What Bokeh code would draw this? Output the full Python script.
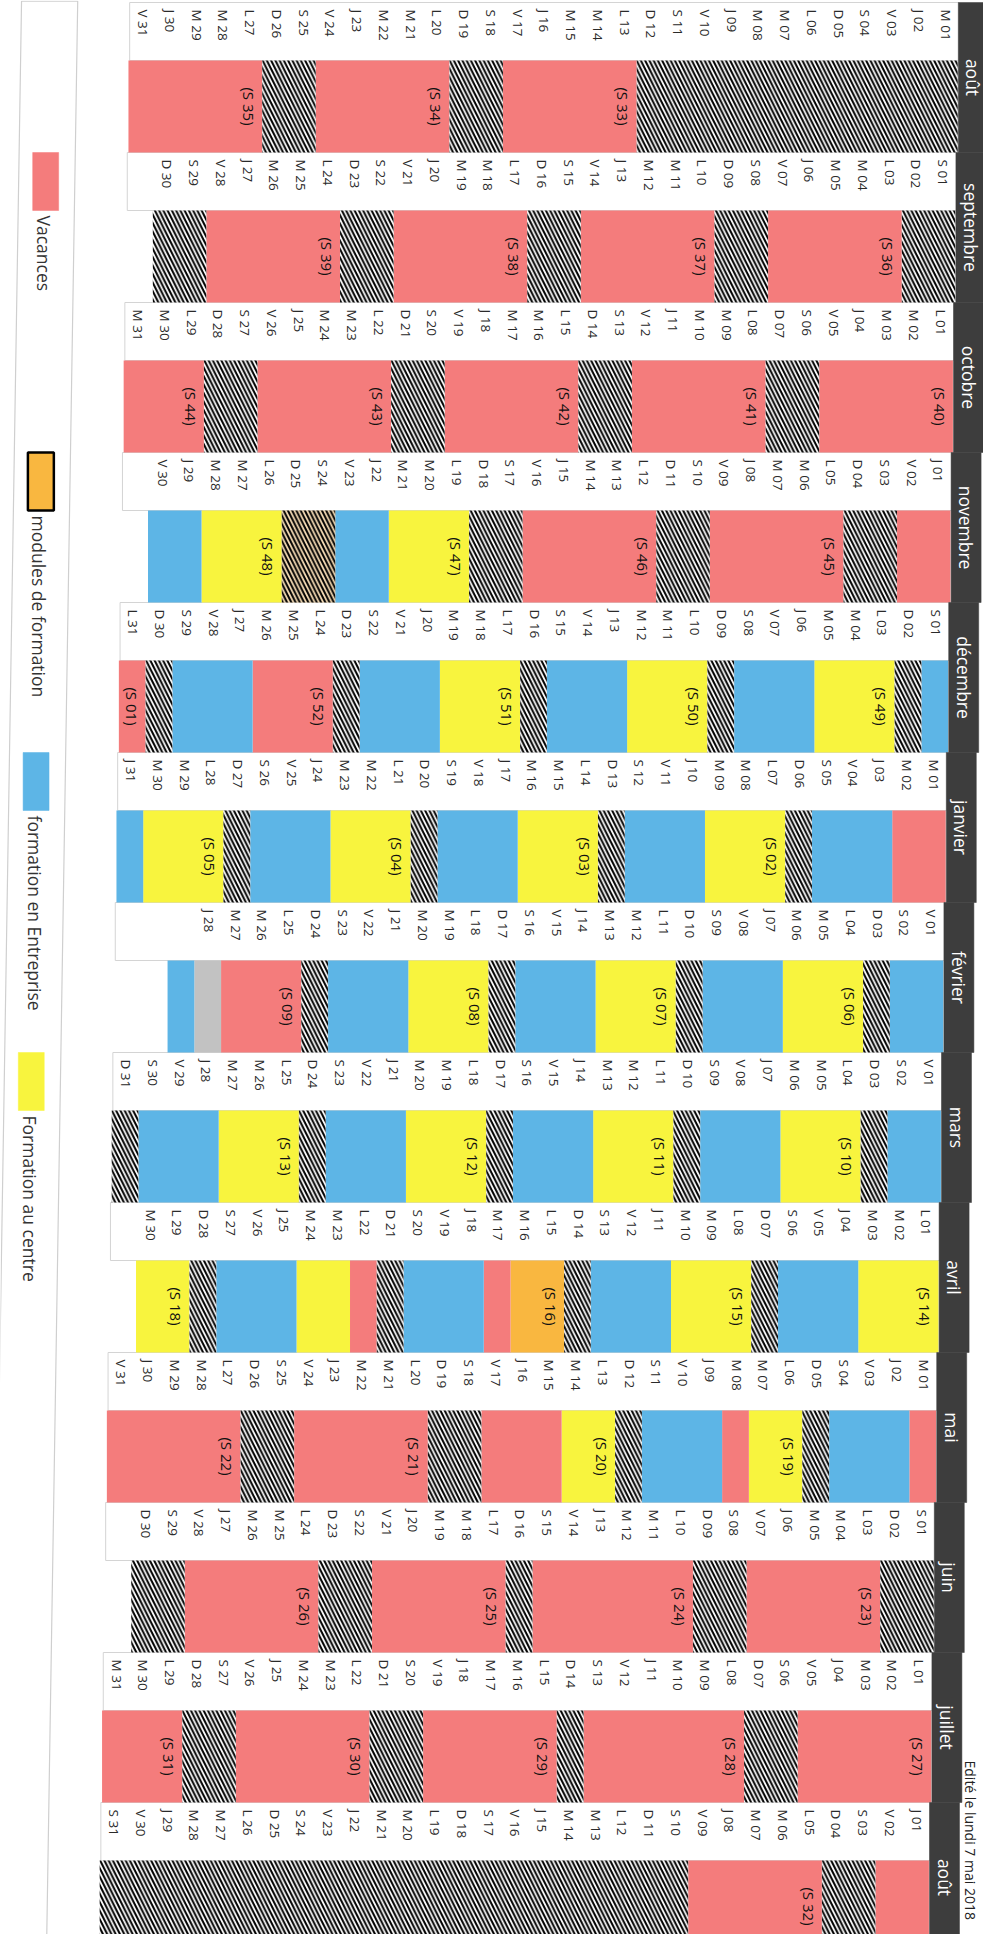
import math
import datetime
import calendar
from bokeh.plotting import figure
from bokeh.models import Range1d, ColumnDataSource
from bokeh.embed import file_html
from bokeh.resources import INLINE
from bokeh.core.properties import value

# ---------------- data ----------------
month_names = ["août", "septembre", "octobre", "novembre", "décembre", "janvier",
               "février", "mars", "avril", "mai", "juin", "juillet", "août"]
month_years = [2018, 2018, 2018, 2018, 2018, 2019, 2019, 2019, 2019, 2019, 2019, 2019, 2019]
month_numbers = [8, 9, 10, 11, 12, 1, 2, 3, 4, 5, 6, 7, 8]

# one code per day (1..31): P vacances, O modules, B entreprise, Y centre,
# H hachuré, Q hachuré teinté, G gris, . vide
day_status = [
    "HHHHHHHHHHHHPPPPPHHPPPPPHHPPPPP",  # août 2018
    "HHPPPPPHHPPPPPHHPPPPPHHPPPPPHH.",  # septembre
    "PPPPPHHPPPPPHHPPPPPHHPPPPPHHPPP",  # octobre
    "PPHHPPPPPHHPPPPPHHYYYBBQQYYYBB.",  # novembre
    "BHYYYBBBHYYYBBBHYYYBBBHPPPBBBHP",  # décembre
    "PPBBBHYYYBBBHYYYBBBHYYYBBBHYYYB",  # janvier
    "BBHYYYBBBHYYYBBBHYYYBBBHPPPGB..",  # février
    "BBHYYYBBBHYYYBBBHYYYBBBHYYYBBBH",  # mars
    "YYYBBBHYYYBBBHOOPBBBHPYYBBBHYY.",  # avril
    "PBBBHYYPBBBHYYPPPHHPPPPPHHPPPPP",  # mai
    "HHPPPPPHHPPPPPPHPPPPPHHPPPPPHH.",  # juin
    "PPPPPHHPPPPPPHPPPPPHHPPPPPHHPPP",  # juillet
    "PPHHPPPPPHHHHHHHHHHHHHHHHHHHHHH",  # août 2019
]

week_mondays = [[13, 20, 27], [3, 10, 17, 24], [1, 8, 15, 22, 29], [5, 12, 19, 26],
                [3, 10, 17, 24, 31], [7, 14, 21, 28], [4, 11, 18, 25], [4, 11, 18, 25],
                [1, 8, 15, 29], [6, 13, 20, 27], [3, 10, 17, 24], [1, 8, 15, 22, 29], [5]]
week_numbers = [[33, 34, 35], [36, 37, 38, 39], [40, 41, 42, 43, 44], [45, 46, 47, 48],
                [49, 50, 51, 52, 1], [2, 3, 4, 5], [6, 7, 8, 9], [10, 11, 12, 13],
                [14, 15, 16, 18], [19, 20, 21, 22], [23, 24, 25, 26], [27, 28, 29, 30, 31], [32]]

weekday_letters = ["L", "M", "M", "J", "V", "S", "D"]
legend_labels = ["Vacances", "modules de formation", "formation en Entreprise", "Formation au centre"]
legend_codes = ["P", "O", "B", "Y"]
legend_rows = [1, 3, 5, 7]
edit_note = "Edité le lundi 7 mai 2018"

# ---------------- style / layout ----------------
code_fill = {"P": "#F47C7C", "B": "#5DB5E6", "Y": "#F8F43E", "O": "#F9B740",
             "G": "#C2C2C2", "H": "#FFFFFF", "Q": "#F7DDB6"}
hatched_codes = {"H", "Q"}

W, H = 983, 1934
DAY1_PX = 945.5       # pixel of day 1 (top month)
PITCH = 26.75         # pixels per day
SHEAR = 2.4 / PITCH   # scan skew, days per month
MONTH_PX = 150.0
TOP_PX = 2.0
LABEL_H = 58.0 / MONTH_PX
BAR_H = 1.0 - LABEL_H

x_left = 1 + DAY1_PX / PITCH
x_right = 1 + (DAY1_PX - W) / PITCH
y_top = -TOP_PX / MONTH_PX
y_bottom = (H - TOP_PX) / MONTH_PX

p = figure(width=W, height=H, x_range=Range1d(x_left, x_right),
           y_range=Range1d(y_bottom, y_top), output_backend="svg",
           toolbar_location=None, x_axis_location=None, y_axis_location=None,
           min_border=0)
p.grid.visible = False
p.outline_line_color = None
p.background_fill_color = "white"
p.border_fill_color = "white"

FONT = value("Open Sans")

# legend box
lg_l, lg_r = 35.56, 33.46
yt, yb = y_top + 0.005, y_bottom + 0.05
p.patch(x=[lg_l + SHEAR * yt, lg_r + SHEAR * yt, lg_r + SHEAR * yb, lg_l + SHEAR * yb],
        y=[yt, yt, yb, yb], fill_color="white", line_color="#cfcfcf", line_width=1.2)

# label strips
strip = dict(x=[], y=[])
for m in range(len(month_names)):
    yc = m + LABEL_H / 2
    strip["x"].append(16 + SHEAR * yc)
    strip["y"].append(yc)
p.rect(x="x", y="y", width=31, height=LABEL_H, source=ColumnDataSource(strip),
       fill_color="white", line_color="#d4d4d4", line_width=1)

# day cells, merged into runs of equal status
solid = dict(x=[], y=[], w=[], c=[])
hatch = dict(x=[], y=[], w=[], c=[])
for m, codes in enumerate(day_status):
    yc = m + LABEL_H + BAR_H / 2
    i = 0
    while i < len(codes):
        j = i
        while j + 1 < len(codes) and codes[j + 1] == codes[i]:
            j += 1
        ch = codes[i]
        if ch != ".":
            tgt = hatch if ch in hatched_codes else solid
            d0, d1 = i + 1, j + 1
            tgt["x"].append((d0 + d1) / 2 + SHEAR * yc)
            tgt["y"].append(yc)
            tgt["w"].append(d1 - d0 + 1)
            tgt["c"].append(code_fill[ch])
        i = j + 1
p.rect(x="x", y="y", width="w", height=BAR_H, source=ColumnDataSource(solid),
       fill_color="c", line_color=None)
p.rect(x="x", y="y", width="w", height=BAR_H, source=ColumnDataSource(hatch),
       fill_color="c", line_color=None, hatch_pattern="\\", hatch_color="black",
       hatch_weight=2.0, hatch_scale=8.5)

# day labels
lab = dict(x=[], y=[], t=[])
for m, (yr, mo) in enumerate(zip(month_years, month_numbers)):
    nd = calendar.monthrange(yr, mo)[1]
    ylab = m + 0.047
    for d in range(1, nd + 1):
        wd = datetime.date(yr, mo, d).weekday()
        lab["x"].append(d + SHEAR * (m + 0.2))
        lab["y"].append(ylab)
        lab["t"].append(f"{weekday_letters[wd]} {d:02d}")
p.text(x="x", y="y", text="t", source=ColumnDataSource(lab), angle=-math.pi / 2,
       text_align="left", text_baseline="middle", text_font=FONT,
       text_font_size=value("13.5px"), text_color="#2a2a2a")

# week labels
wk = dict(x=[], y=[], t=[])
for m, (mons, nums) in enumerate(zip(week_mondays, week_numbers)):
    yc = m + LABEL_H + BAR_H / 2
    for d, n in zip(mons, nums):
        wk["x"].append(d + SHEAR * yc)
        wk["y"].append(yc)
        wk["t"].append(f"(S {n:02d})")
p.text(x="x", y="y", text="t", source=ColumnDataSource(wk), angle=-math.pi / 2,
       text_align="center", text_baseline="middle", text_font=FONT,
       text_font_size=value("15px"), text_color="#111111")

# month header band
band_l, band_r = 0.495, -0.626
hd = dict(x=[], y=[], t=[])
for m, name in enumerate(month_names):
    yc = m + 0.5
    hd["x"].append((band_l + band_r) / 2 + SHEAR * yc)
    hd["y"].append(yc)
    hd["t"].append(name)
hsrc = ColumnDataSource(hd)
p.rect(x="x", y="y", width=band_l - band_r, height=1.0, source=hsrc,
       fill_color="#3d3d3d", line_color="#3d3d3d", line_width=0.5)
p.text(x="x", y="y", text="t", source=hsrc, angle=-math.pi / 2,
       text_align="center", text_baseline="middle", text_font=FONT,
       text_font_size=value("17.5px"), text_color="white")

# legend items
lgs = dict(x=[], y=[], c=[], lc=[], lw=[])
lgt = dict(x=[], y=[], t=[])
sw_center = 34.55
for row, code, label in zip(legend_rows, legend_codes, legend_labels):
    yc = row + LABEL_H / 2
    lgs["x"].append(sw_center + SHEAR * yc)
    lgs["y"].append(yc)
    lgs["c"].append(code_fill[code])
    lgs["lc"].append("black" if code == "O" else code_fill[code])
    lgs["lw"].append(2.5 if code == "O" else 0.5)
    ty = row + 0.42
    lgt["x"].append(sw_center + SHEAR * (row + 0.8))
    lgt["y"].append(ty)
    lgt["t"].append(label)
p.rect(x="x", y="y", width=0.97, height=LABEL_H, source=ColumnDataSource(lgs),
       fill_color="c", line_color="lc", line_width="lw")
p.text(x="x", y="y", text="t", source=ColumnDataSource(lgt), angle=-math.pi / 2,
       text_align="left", text_baseline="middle", text_font=FONT,
       text_font_size=value("17.5px"), text_color="#333333")

# edit note
ey = 11.72
p.text(x=[-1.02 + SHEAR * 12.4], y=[ey], text=[edit_note], angle=-math.pi / 2,
       text_align="left", text_baseline="middle", text_font=FONT,
       text_font_size=value("14px"), text_color="#222222")

open("out.html", "w").write(file_html(p, INLINE))
